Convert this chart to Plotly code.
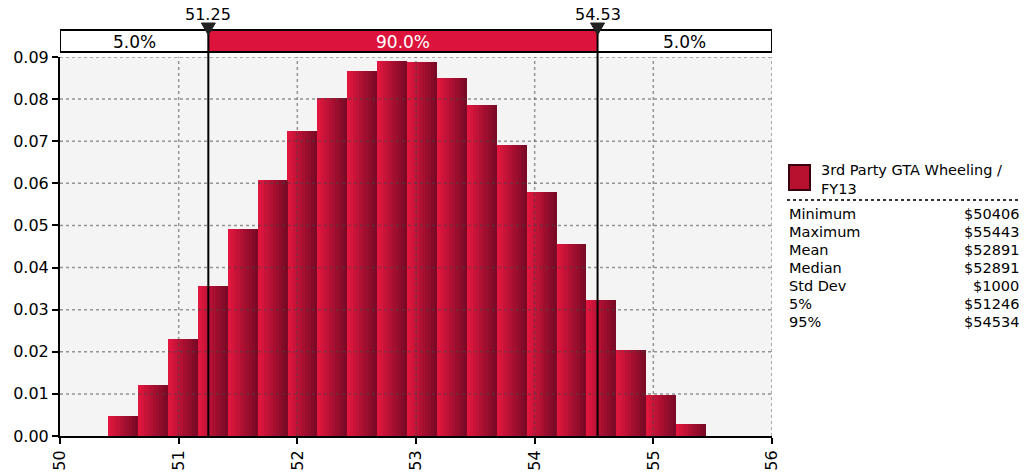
import plotly.graph_objects as go

# ---------------- data ----------------
densities = [0.0047, 0.0122, 0.0231, 0.0356, 0.0492, 0.0608, 0.0724, 0.0802, 0.0866, 0.0890,
             0.0888, 0.0850, 0.0785, 0.0692, 0.0580, 0.0456, 0.0322, 0.0204, 0.0097, 0.0028]
stat_labels = ["Minimum", "Maximum", "Mean", "Median", "Std Dev", "5%", "95%"]
stat_values = ["$50406", "$55443", "$52891", "$52891", "$1000", "$51246", "$54534"]
data_min = 50.406
data_max = 55.443
p5 = 51.25
p95 = 54.53
band_labels = ["5.0%", "90.0%", "5.0%"]
x_ticks = [50, 51, 52, 53, 54, 55, 56]
y_ticks = [0.00, 0.01, 0.02, 0.03, 0.04, 0.05, 0.06, 0.07, 0.08, 0.09]
series_name = "3rd Party GTA Wheeling /<br>FY13"

# ---------------- layout geometry ----------------
W, H = 1026, 473
ML, MR, MT, MB = 60, 254, 57, 37
PW, PH = W - ML - MR, H - MT - MB
FONT = "DejaVu Sans"
CRIMSON = "#DC143C"


def px_x(px):
    """page pixel x -> paper fraction"""
    return (px - ML) / PW


def px_y(py):
    """page pixel y -> paper fraction"""
    return (H - MB - py) / PH


nb = len(densities)
bw = (data_max - data_min) / nb
lefts = [data_min + i * bw for i in range(nb)]

fig = go.Figure()

# gradient bars: each bin split into vertical strips (bright left -> dark right)
NS = 10
c0 = (224, 22, 62)
c1 = (122, 10, 38)
for k in range(NS):
    t = k / (NS - 1)
    col = "rgb(%d,%d,%d)" % tuple(round(c0[j] + (c1[j] - c0[j]) * t) for j in range(3))
    fig.add_trace(go.Bar(
        x=[l + (k + 0.5) * bw / NS for l in lefts],
        y=densities,
        width=bw / NS * 1.02,
        marker=dict(color=col, line=dict(width=0)),
        showlegend=False,
        hoverinfo="skip",
    ))

shapes = []
GRID = dict(color="rgba(70,70,70,0.55)", width=1.5, dash="dot")
for xv in x_ticks[1:]:
    shapes.append(dict(type="line", xref="x", yref="paper", x0=xv, x1=xv, y0=0, y1=1,
                       layer="above", line=GRID))
for yv in y_ticks[1:]:
    shapes.append(dict(type="line", xref="paper", yref="y", x0=0, x1=1, y0=yv, y1=yv,
                       layer="above", line=GRID))

# percentile band on top
yb0, yb1 = px_y(52), px_y(30)
shapes.append(dict(type="rect", xref="x", yref="paper", x0=p5, x1=p95, y0=yb0, y1=yb1,
                   fillcolor=CRIMSON, line=dict(width=0), layer="above"))
shapes.append(dict(type="rect", xref="x", yref="paper", x0=x_ticks[0], x1=x_ticks[-1], y0=yb0, y1=yb1,
                   fillcolor="rgba(0,0,0,0)", line=dict(color="black", width=2), layer="above"))
for pv in (p5, p95):
    shapes.append(dict(type="line", xref="x", yref="paper", x0=pv, x1=pv, y0=0, y1=yb1,
                       layer="above", line=dict(color="black", width=2)))
    shapes.append(dict(type="path", xref="x", yref="paper", xsizemode="pixel", ysizemode="pixel",
                       xanchor=pv, yanchor=yb1, path="M -7,7 L 7,7 L 0,-5 Z",
                       fillcolor="#222222", line=dict(color="#222222", width=1), layer="above"))

# legend swatch and separator
shapes.append(dict(type="rect", xref="paper", yref="paper", x0=px_x(789), x1=px_x(810),
                   y0=px_y(190), y1=px_y(165), fillcolor="#B8102F",
                   line=dict(color="#3a0010", width=2)))
shapes.append(dict(type="line", xref="paper", yref="paper", x0=px_x(787), x1=px_x(1018),
                   y0=px_y(200), y1=px_y(200), line=dict(color="#333333", width=2, dash="dot")))

annotations = []
band_centers = [(x_ticks[0] + p5) / 2, (p5 + p95) / 2, (p95 + x_ticks[-1]) / 2]
for lbl, xc, colr in zip(band_labels, band_centers, ["black", "white", "black"]):
    annotations.append(dict(x=xc, y=px_y(42), xref="x", yref="paper", text=lbl, showarrow=False,
                            font=dict(family=FONT, size=17, color=colr), xanchor="center", yanchor="middle"))
for pv in (p5, p95):
    annotations.append(dict(x=pv, y=px_y(14), xref="x", yref="paper", text="%.2f" % pv, showarrow=False,
                            font=dict(family=FONT, size=16, color="black"), xanchor="center", yanchor="middle"))

annotations.append(dict(x=px_x(819), y=px_y(160), xref="paper", yref="paper", text=series_name,
                        showarrow=False, align="left", xanchor="left", yanchor="top",
                        font=dict(family=FONT, size=14.5, color="black")))
for i, (sl, sv) in enumerate(zip(stat_labels, stat_values)):
    yy = px_y(214 + 18 * i)
    annotations.append(dict(x=px_x(787), y=yy, xref="paper", yref="paper", text=sl, showarrow=False,
                            xanchor="left", yanchor="middle", font=dict(family=FONT, size=14.5, color="black")))
    annotations.append(dict(x=px_x(1021), y=yy, xref="paper", yref="paper", text=sv, showarrow=False,
                            xanchor="right", yanchor="middle", font=dict(family=FONT, size=14.5, color="black")))

fig.update_layout(
    width=W, height=H,
    margin=dict(l=ML, r=MR, t=MT, b=MB, autoexpand=False),
    paper_bgcolor="white",
    plot_bgcolor="#F4F4F4",
    barmode="overlay",
    bargap=0,
    showlegend=False,
    font=dict(family=FONT, size=16, color="black"),
    shapes=shapes,
    annotations=annotations,
    xaxis=dict(range=[x_ticks[0], x_ticks[-1]], tickvals=x_ticks, ticktext=[str(v) for v in x_ticks],
               tickangle=-90, showgrid=False, zeroline=False, showline=True, linecolor="black",
               linewidth=2, ticks="outside", ticklen=6, tickwidth=1.5, tickcolor="black",
               tickfont=dict(family=FONT, size=16, color="black"), automargin=False),
    yaxis=dict(range=[0, y_ticks[-1]], tickvals=y_ticks, ticktext=["%.2f" % v for v in y_ticks],
               showgrid=False, zeroline=False, showline=True, linecolor="black", linewidth=2,
               ticks="outside", ticklen=6, tickwidth=1.5, tickcolor="black",
               tickfont=dict(family=FONT, size=16, color="black"), automargin=False),
)

fig.write_html("out.html",
               config={"displayModeBar": False},
               post_script="document.body.style.margin='0px';document.body.style.overflow='hidden';")
